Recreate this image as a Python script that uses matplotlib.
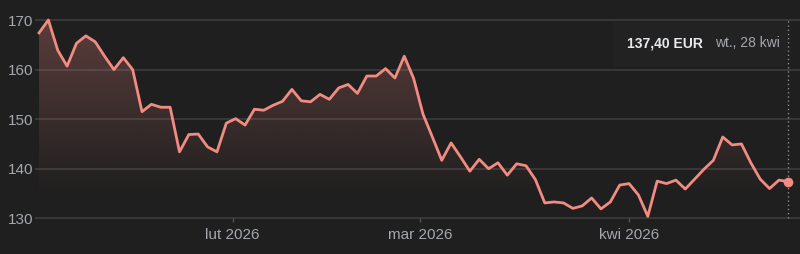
import numpy as np
import pandas as pd
import matplotlib
matplotlib.use('Agg')
import matplotlib.pyplot as plt
from matplotlib.patches import Rectangle

# trading days 2 Jan - 28 Apr 2026 (Good Friday / Easter Monday closed)
DATES = [d for d in pd.bdate_range('2026-01-02', '2026-04-28')
         if d not in (pd.Timestamp('2026-04-03'), pd.Timestamp('2026-04-06'))]
PRICES = [167.4, 170.0, 163.9, 160.7, 165.3, 166.8, 165.6, 162.7, 160.0, 162.4,
          160.0, 151.5, 153.0, 152.4, 152.4, 143.4, 146.9, 147.0, 144.4, 143.4,
          149.2, 150.1, 148.8, 152.0, 151.8, 152.8, 153.6, 156.0, 153.7, 153.5,
          155.0, 154.0, 156.3, 157.0, 155.2, 158.7, 158.7, 160.2, 158.3, 162.7,
          158.2, 151.0, 146.4, 141.7, 145.2, 142.4, 139.5, 141.9, 140.0, 141.2,
          138.7, 141.0, 140.6, 137.8, 133.1, 133.3, 133.1, 132.0, 132.5, 134.1,
          131.9, 133.3, 136.7, 137.0, 134.7, 130.4, 137.5, 137.0, 137.7, 135.9,
          137.9, 139.9, 141.7, 146.4, 144.8, 145.0, 141.2, 137.9, 136.0, 137.7,
          137.4]
YTICKS = [130, 140, 150, 160, 170]
MONTHS = ['2026-02-01', '2026-03-01', '2026-04-01']
MONTH_LABELS = ['lut 2026', 'mar 2026', 'kwi 2026']
TIP_VALUE = '137,40 EUR'
TIP_DATE = 'wt., 28 kwi'

BG = '#1f1f1f'
LINE = '#f28b82'
GRID = '#3a3a3a'
TXT = '#a4a7ab'
plt.rcParams['font.family'] = ['Liberation Sans', 'DejaVu Sans']

W, H = 800, 254
fig = plt.figure(figsize=(W / 100, H / 100), dpi=100, facecolor=BG)
ax = fig.add_axes([35 / W, 1 - 222 / H, 765 / W, 217 / H])
ax.set_facecolor(BG)

x = np.arange(len(PRICES))
y = np.array(PRICES)
step = 9.366
ax.set_xlim(-4 / step, x[-1] + 11.7 / step)
ax.set_ylim(130 - 3.7 / 4.957, 170 + 15 / 4.957)
ylo, yhi = ax.get_ylim()

for v in YTICKS:
    ax.axhline(v, color=GRID, lw=1.3, zorder=0)

# gradient fill under the line
poly = ax.fill_between(x, y, ylo, facecolor='none', edgecolor='none')
grad = np.zeros((100, 1, 4))
r, g, b = matplotlib.colors.to_rgb(LINE)
grad[..., 0], grad[..., 1], grad[..., 2] = r, g, b
yy = np.linspace(yhi, ylo, 100)
grad[:, 0, 3] = np.clip((yy - 134) / (170 - 134), 0, 1.1) * 0.28
img = ax.imshow(grad, aspect='auto', extent=[x[0], x[-1], ylo, yhi],
                origin='upper', zorder=1, interpolation='bilinear')
img.set_clip_path(poly.get_paths()[0], transform=ax.transData)

ax.plot(x, y, color=LINE, lw=2, zorder=3, solid_joinstyle='round')
ax.vlines(x[-1], 130, 170.2, color='#8a8a8a', lw=1, linestyles=(0, (1, 2)), zorder=2)
ax.plot(x[-1], y[-1], 'o', color=LINE, ms=7, zorder=4, mec='none')

# month ticks placed in trading-day index space
t = np.array([d.value for d in DATES], dtype=float)
ticks = [np.interp(pd.Timestamp(m).value, t, x) for m in MONTHS]
ax.set_xticks(ticks)
ax.set_xticklabels(MONTH_LABELS)
ax.set_yticks(YTICKS)
ax.tick_params(axis='x', direction='in', length=3, width=1, color='#555555',
               labelcolor=TXT, labelsize=11, pad=4)
ax.tick_params(axis='y', length=0, labelcolor=TXT, labelsize=11, pad=1.5)
for s in ax.spines.values():
    s.set_visible(False)

# tooltip
fig.patches.append(Rectangle((613 / W, 1 - 67 / H), 174 / W, 45 / H,
                             transform=fig.transFigure, facecolor='#222222',
                             edgecolor='none', zorder=0))
fig.text(627 / W, 1 - 43 / H, TIP_VALUE, color='#e8eaed', fontsize=10,
         fontweight='bold', ha='left', va='center')
fig.text(780 / W, 1 - 43 / H, TIP_DATE, color=TXT, fontsize=10,
         ha='right', va='center')

fig.savefig('out.png', dpi=100, facecolor=BG)
